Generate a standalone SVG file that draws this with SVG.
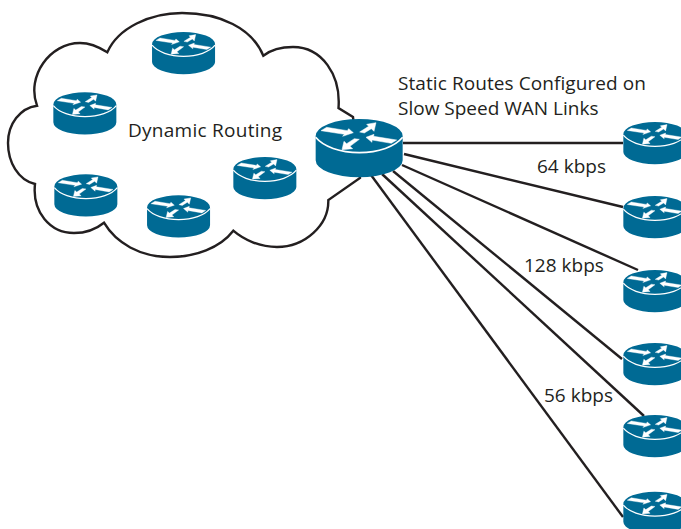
<svg xmlns="http://www.w3.org/2000/svg" width="681" height="529" viewBox="0 0 681 529">
<style>
.body{fill:#006a94}
.w{fill:#fff;stroke:#fff;stroke-width:1.500}
.arc{fill:none;stroke:#fff;stroke-width:5}
.link{fill:none;stroke:#231f20;stroke-width:2.400}
.cloud{fill:#fff;stroke:#231f20;stroke-width:2.400;stroke-linejoin:miter}
text{font-family:"Open Sans","Noto Sans",sans-serif;font-size:19px;fill:#231f20}
</style>
<defs>
<g id="router">
<path class="body" d="M47 108A130.500 51 0 0 1 308 108V181A130.500 51 0 0 1 47 181Z"/>
<path class="arc" d="M47 112C70 140 120 158 178 158C236 158 285 140 308 112"/>
<path class="w" d="M63 92L80 82L142 92L146 86L160 98L128 109L133 103Z"/>
<path class="w" d="M228 68L222 94L214 86L193 99L179 96L206 79L200 73Z"/>
<path class="w" d="M198 112L222 103L221 109L290 120L274 130L216 120L216 127Z"/>
<path class="w" d="M126 149L132 124L140 131L163 116L178 118L150 139L158 146Z"/>
</g>
</defs>
<g id="cloud"><path class="cloud" d="M107.300 52.300C118 28 150 13 182 13C220 13 252 28 263.300 55.700C272 49 283 47 293 47C322 47 341 75 338.500 108L353 117L360 178L328.300 200C329 225 305 247 277 247C260 247 244 240 233.300 230.700C220 248 195 257 170 257C140 257 116 243 104 222.700C95 230 84 233 74 233C50 233 32 212 35 184C18 180 8 162 8 143C8 124 20 108 37 105.700C26 76 50 43 80 43C90 43 99 47 107.300 52.300Z"/></g>
<g id="connectors">
<path class="link" d="M403 143H623"/>
<path class="link" d="M404 154L623 207"/>
<path class="link" d="M402 165L638 270"/>
<path class="link" d="M393 171L622 359"/>
<path class="link" d="M382 174L644 416"/>
<path class="link" d="M371 175L623 517"/>
</g>
<g id="router-a"><use href="#router" transform="translate(140.700 18.200) scale(.2414)"/></g>
<g id="router-b"><use href="#router" transform="translate(42 78.500) scale(.2414)"/></g>
<g id="router-c"><use href="#router" transform="translate(43 160.500) scale(.2414)"/></g>
<g id="router-d"><use href="#router" transform="translate(135.700 181.500) scale(.2414)"/></g>
<g id="router-e"><use href="#router" transform="translate(222 143.200) scale(.2414)"/></g>
<g id="router-hub"><use href="#router" transform="translate(300 100) scale(.3333)"/></g>
<g id="router-1"><use href="#router" transform="translate(612 108.200) scale(.2414)"/></g>
<g id="router-2"><use href="#router" transform="translate(612 182.200) scale(.2414)"/></g>
<g id="router-3"><use href="#router" transform="translate(612 256.200) scale(.2414)"/></g>
<g id="router-4"><use href="#router" transform="translate(612 329.200) scale(.2414)"/></g>
<g id="router-5"><use href="#router" transform="translate(612 401.200) scale(.2414)"/></g>
<g id="router-6"><use href="#router" transform="translate(612 478) scale(.2414)"/></g>
<text x="128" y="137" letter-spacing=".27">Dynamic Routing</text>
<text x="398" y="90" letter-spacing=".08">Static Routes Configured on</text>
<text x="398" y="115">Slow Speed WAN Links</text>
<text x="537" y="173">64 kbps</text>
<text x="524" y="272">128 kbps</text>
<text x="544" y="402">56 kbps</text>
</svg>
